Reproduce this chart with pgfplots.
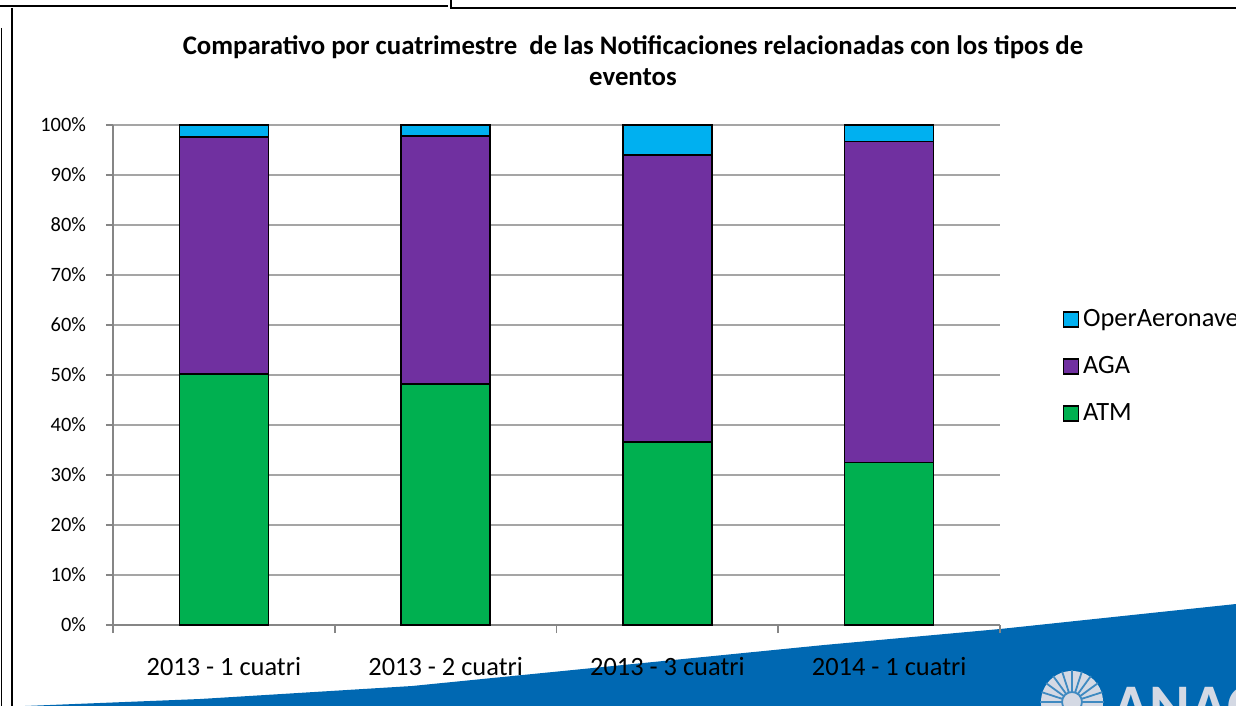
\documentclass[border=0pt]{standalone}
\usepackage{fontspec}
\setmainfont{Carlito}
\usepackage{pgfplots}
\pgfplotsset{compat=1.18}
\definecolor{cOper}{RGB}{0,176,240}
\definecolor{cAGA}{RGB}{112,48,160}
\definecolor{cATM}{RGB}{0,176,80}
\definecolor{wedge}{RGB}{0,104,178}
\definecolor{gridc}{RGB}{165,165,165}
\definecolor{axc}{RGB}{134,134,134}
\definecolor{logoc}{RGB}{212,217,228}

\pgfplotstableread{
x ATM AGA Oper
0 50.2 47.4 2.4
1 48.2 49.6 2.2
2 36.6 57.4 6.0
3 32.5 64.2 3.3
}\datatab

\begin{document}
\begin{tikzpicture}
\useasboundingbox (0pt,0pt) rectangle (618pt,-353pt);
\clip (0pt,0pt) rectangle (618pt,-353pt);
\begin{scope}[x=0.5pt,y=-0.5pt]
\fill[wedge] (0,707) -- (200,699) -- (412,686) -- (824,645) -- (1000,629) -- (1236,604) -- (1236,710) -- (0,710) -- cycle;
% logo
\fill[logoc] (1072,702) circle (31);
\foreach \a in {0,18,...,180} {\draw[wedge!70!logoc,line width=0.9pt] (1072,702) -- ++(\a:-32);}
\fill[logoc] (1072,702) circle (10);
\draw[wedge!70!logoc,line width=0.9pt] (1072,702) circle (10);
\node[anchor=base west,inner sep=0pt,font=\bfseries\fontsize{31}{31}\selectfont,text=logoc] at (1112,727) {ANAC};
% frame lines
\draw[black,line width=1.1pt] (0,6) -- (448,6);
\draw[black,line width=1pt] (451,0) -- (451,9);
\draw[black,line width=1pt] (451,8) -- (1236,8);
\draw[black,line width=1.1pt] (12,8) -- (12,706);
\draw[black,line width=0.5pt] (1,28) -- (1,706);
% title
\node[align=center,font=\bfseries\fontsize{13.4}{15.5}\selectfont] at (633,61) {Comparativo por cuatrimestre \ de las Notificaciones relacionadas con los tipos de\\eventos};
\coordinate (axsw) at (113,625);
\end{scope}
\begin{axis}[
  at={(axsw)}, anchor=south west,
  scale only axis, width=443.5pt, height=250pt,
  ybar stacked, bar width=44.5pt,
  xmin=-0.5, xmax=3.5, ymin=0, ymax=100,
  axis x line*=bottom, axis y line*=left,
  axis line style={axc, line width=0.8pt},
  ytick={0,10,...,100},
  yticklabel={\pgfmathprintnumber{\tick}\%},
  ymajorgrids, grid style={gridc, line width=0.8pt},
  xtick={0,1,2,3},
  xticklabels={2013 - 1 cuatri, 2013 - 2 cuatri, 2013 - 3 cuatri, 2014 - 1 cuatri},
  minor xtick={-0.5,0.5,1.5,2.5,3.5},
  tick align=outside,
  major tick length=3.5pt,
  minor tick length=4pt,
  x tick style={draw=none},
  minor x tick style={draw=axc, line width=0.8pt},
  y tick style={draw=axc, line width=0.8pt},
  /pgf/number format/assume math mode=true,
  yticklabel style={font=\fontsize{10.2}{12}\selectfont, xshift=-6.5pt},
  xticklabel style={font=\fontsize{13.2}{15}\selectfont, yshift=-9pt},
  legend style={at={(1.070,0.64)}, anchor=north west, draw=none, fill=none,
    font=\fontsize{13.2}{15}\selectfont, row sep=9.4pt, inner sep=0pt,
    /tikz/every even column/.append style={column sep=2pt}},
  legend cell align=left,
  reverse legend,
  area legend,
  legend image code/.code={\draw[#1,draw=black,line width=0.8pt] (0pt,-3.75pt) rectangle (7.5pt,3.75pt);},
  every axis plot/.append style={draw=black, line width=0.8pt},
  clip=false,
]
\addplot[fill=cATM] table[x=x,y=ATM] {\datatab};
\addlegendentry{ATM}
\addplot[fill=cAGA] table[x=x,y=AGA] {\datatab};
\addlegendentry{AGA}
\addplot[fill=cOper] table[x=x,y=Oper] {\datatab};
\addlegendentry{OperAeronave}
\end{axis}
\end{tikzpicture}
\end{document}
